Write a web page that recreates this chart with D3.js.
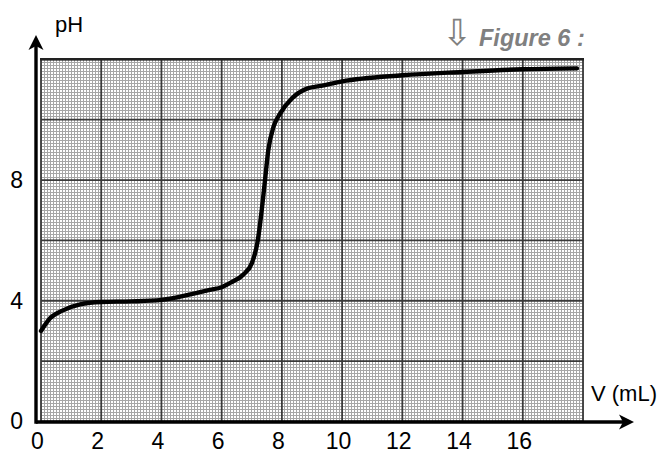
<!DOCTYPE html>
<html>
<head>
<meta charset="utf-8">
<script src="https://cdn.jsdelivr.net/npm/d3@7"></script>
<style>
  body { margin: 0; background: #fff; }
  text { font-family: "Liberation Sans", Arial, sans-serif; }
</style>
</head>
<body>
<div id="chart"></div>
<script>
// titration curve
var volume = [0, 0.3, 0.75, 1.3, 2, 3, 4, 5, 5.6, 6, 6.3, 6.7, 7.0, 7.2, 7.33, 7.44, 7.55, 7.72, 7.94, 8.33, 8.83, 9.3, 10, 12, 14, 16, 17.8];
var pH = [3.0, 3.42, 3.69, 3.88, 3.96, 3.98, 4.03, 4.22, 4.36, 4.45, 4.6, 4.85, 5.24, 6.0, 7.0, 8.0, 9.0, 9.76, 10.2, 10.7, 11.03, 11.12, 11.27, 11.47, 11.58, 11.67, 11.7];
var xTicks = [0, 2, 4, 6, 8, 10, 12, 14, 16];
var yTicks = [0, 4, 8];
var xLabel = "V (mL)";
var yLabel = "pH";
var figTitle = "Figure 6 :";

var width = 659, height = 457;
var xMax = 18, yMax = 12;

var svg = d3.select('#chart').append('svg')
            .attr('width', width)
            .attr('height', height);

var x = d3.scaleLinear().domain([0, xMax]).range([41, 583]);
var y = d3.scaleLinear().domain([0, yMax]).range([421.5, 59.3]);

// graph paper
var grid = svg.append('g');
grid.append('rect')
    .attr('x', x(0)).attr('y', y(yMax))
    .attr('width', x(xMax) - x(0)).attr('height', y(0) - y(yMax))
    .attr('fill', '#fff');

var minorX = d3.range(0, xMax * 10 + 1).map(function(i){ return i / 10; });
var minorY = d3.range(0, yMax * 10 + 1).map(function(i){ return i / 10; });
grid.selectAll('.minv').data(minorX).enter().append('line')
    .attr('x1', function(d){ return x(d); }).attr('x2', function(d){ return x(d); })
    .attr('y1', y(0)).attr('y2', y(yMax))
    .attr('stroke', '#a6a6a6').attr('stroke-width', 1)
    .attr('shape-rendering', 'crispEdges');
grid.selectAll('.minh').data(minorY).enter().append('line')
    .attr('y1', function(d){ return y(d); }).attr('y2', function(d){ return y(d); })
    .attr('x1', x(0)).attr('x2', x(xMax))
    .attr('stroke', '#a6a6a6').attr('stroke-width', 1)
    .attr('shape-rendering', 'crispEdges');

var majorX = d3.range(0, xMax + 1, 2), majorY = d3.range(0, yMax + 1, 2);
grid.selectAll('.majv').data(majorX).enter().append('line')
    .attr('x1', function(d){ return x(d); }).attr('x2', function(d){ return x(d); })
    .attr('y1', y(0)).attr('y2', y(yMax))
    .attr('stroke', '#3a3a3a').attr('stroke-width', 1.8);
grid.selectAll('.majh').data(majorY).enter().append('line')
    .attr('y1', function(d){ return y(d); }).attr('y2', function(d){ return y(d); })
    .attr('x1', x(0)).attr('x2', x(xMax))
    .attr('stroke', '#3a3a3a').attr('stroke-width', 1.8);
grid.append('line')
    .attr('x1', x(0) - 1).attr('x2', x(xMax) + 1)
    .attr('y1', y(yMax)).attr('y2', y(yMax))
    .attr('stroke', '#222').attr('stroke-width', 2.6);

// curve
var line = d3.line().curve(d3.curveMonotoneX)
          .x(function(d){ return x(d[0]); })
          .y(function(d){ return y(d[1]); });
svg.append('path')
   .datum(d3.zip(volume, pH))
   .attr('d', line)
   .attr('fill', 'none')
   .attr('stroke', '#000')
   .attr('stroke-width', 4.4)
   .attr('stroke-linecap', 'round');

// axes (labels only, thick lines drawn by hand)
var xAxis = d3.axisBottom(x).tickValues(xTicks).tickSize(0).tickPadding(11)
              .tickFormat(d3.format('d'));
var yAxis = d3.axisLeft(y).tickValues(yTicks).tickSize(0).tickPadding(13)
              .tickFormat(d3.format('d'));

var axisX = svg.append('g')
       .attr('transform', 'translate(-4,' + 422 + ')')
       .call(xAxis);
var axisY = svg.append('g')
       .attr('transform', 'translate(36,0)')
       .call(yAxis);
[axisX, axisY].forEach(function(a){
  a.select('.domain').remove();
  a.selectAll('text').attr('font-size', 23).attr('fill', '#000')
   .attr('font-family', '"Liberation Sans", Arial, sans-serif');
});

svg.append('line')
   .attr('x1', 36).attr('x2', 624).attr('y1', 422).attr('y2', 422)
   .attr('stroke', '#000').attr('stroke-width', 3.6);
svg.append('line')
   .attr('x1', 36).attr('x2', 36).attr('y1', 423.8).attr('y2', 45)
   .attr('stroke', '#000').attr('stroke-width', 3.4);

svg.append('path')
   .attr('d', 'M634,422 L619,414.5 L623,422 L619,429.5 Z')
   .attr('fill', '#000');
svg.append('path')
   .attr('d', 'M36,35 L28.5,50 L36,46 L43.5,50 Z')
   .attr('fill', '#000');

svg.append('text')
   .attr('x', 55).attr('y', 32)
   .attr('font-size', 22)
   .text(yLabel);
svg.append('text')
   .attr('x', 591).attr('y', 401)
   .attr('font-size', 22)
   .text(xLabel);

svg.append('text')
   .attr('x', 457).attr('y', 45)
   .attr('text-anchor', 'middle')
   .attr('font-size', 36)
   .attr('font-family', '"DejaVu Sans", sans-serif')
   .attr('fill', '#808080')
   .text('\u21E9');
svg.append('text')
   .attr('x', 479).attr('y', 46)
   .attr('font-size', 23.5)
   .attr('font-weight', 'bold')
   .attr('font-style', 'italic')
   .attr('fill', '#808080')
   .text(figTitle);
</script>
</body>
</html>
